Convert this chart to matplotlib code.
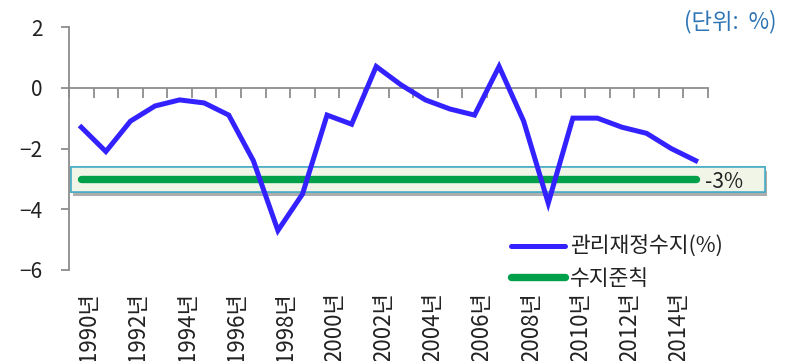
import matplotlib
matplotlib.use("Agg")
import matplotlib.pyplot as plt
import matplotlib.patches as mpatches
import matplotlib.patheffects as pe
from matplotlib.transforms import blended_transform_factory, ScaledTranslation

plt.rcParams['font.family'] = ['Noto Sans CJK KR', 'DejaVu Sans']

years = list(range(1990, 2016))
balance = [-1.3, -2.1, -1.1, -0.6, -0.4, -0.5, -0.9, -2.4, -4.7, -3.5,
           -0.9, -1.2, 0.7, 0.1, -0.4, -0.7, -0.9, 0.7, -1.1, -3.8,
           -1.0, -1.0, -1.3, -1.5, -2.0, -2.4]
rule = [-3.0] * len(years)
year_labels = [f"{y}년" for y in years]
yticks = [2, 0, -2, -4, -6]

blue = '#3322ff'
green = '#00a04a'
gray = '#8c8c8c'
text_color = '#222222'

fig = plt.figure(figsize=(7.9, 3.61), dpi=100)
ax = fig.add_axes([69/790, 1 - 270/361, (708 - 69)/790, (270 - 27)/361])

xs = [i + 0.5 for i in range(len(years))]
ax.set_xlim(0, len(years))
ax.set_ylim(-6, 2)

# highlight band behind the -3% rule
band = mpatches.Rectangle((0.08, -3.44), 28.25, 0.82, facecolor='#f0f5e8',
                          edgecolor='#4bacc6', linewidth=1.2, clip_on=False, zorder=1)
band.set_path_effects([pe.withSimplePatchShadow(offset=(1.5, -3), shadow_rgbFace='#777777', alpha=0.6),
                       pe.Normal()])
ax.add_patch(band)

ax.plot(xs, rule, color=green, linewidth=5.3, solid_capstyle='round', zorder=3,
        label='수지준칙', clip_on=False)
ax.plot(xs, balance, color=blue, linewidth=3.6, solid_joinstyle='miter', zorder=4,
        label='관리재정수지(%)', clip_on=False)

ax.text(len(years) - 0.12, -3.1, '-3%', fontsize=15, va='center', ha='left', color=text_color,
        zorder=5)

# spines
for s in ['top', 'right']:
    ax.spines[s].set_visible(False)
ax.spines['left'].set_color(gray)
ax.spines['left'].set_linewidth(1.3)
ax.spines['bottom'].set_position(('data', 0))
ax.spines['bottom'].set_color(gray)
ax.spines['bottom'].set_linewidth(1.3)

ax.set_yticks(yticks)
ax.set_yticklabels([f"{v}".replace('-', '\u2212') for v in yticks])
ax.tick_params(axis='y', direction='out', length=6, width=1.3, color=gray,
               labelsize=15, pad=13, labelcolor=text_color)
ax.set_xticks(range(len(years) + 1))
ax.tick_params(axis='x', direction='out', length=7, width=1.3, color=gray, labelbottom=False)

# rotated year labels below the plot area
trans = blended_transform_factory(ax.transData, ax.transAxes) + ScaledTranslation(0.075, 0, fig.dpi_scale_trans)
for i, (x, lab) in enumerate(zip(xs, year_labels)):
    if i % 2 == 0:
        ax.text(x, -0.092, lab, transform=trans, rotation=90, ha='center', va='top',
                fontsize=16, color=text_color, clip_on=False)

leg = ax.legend(handles=ax.get_lines()[::-1], loc='upper left', bbox_to_anchor=(0.679, 0.175),
                frameon=False, fontsize=15.5, handlelength=2.5, handletextpad=0.22,
                labelspacing=0.45, borderaxespad=0)
for line in leg.get_lines():
    line.set_solid_capstyle('round')
for t in leg.get_texts():
    t.set_color(text_color)

fig.text(776/790, 1 - 22/361, '(단위:  %)', fontsize=16, color='#2e75b6', ha='right', va='center')

fig.savefig('out.png', dpi=100)
